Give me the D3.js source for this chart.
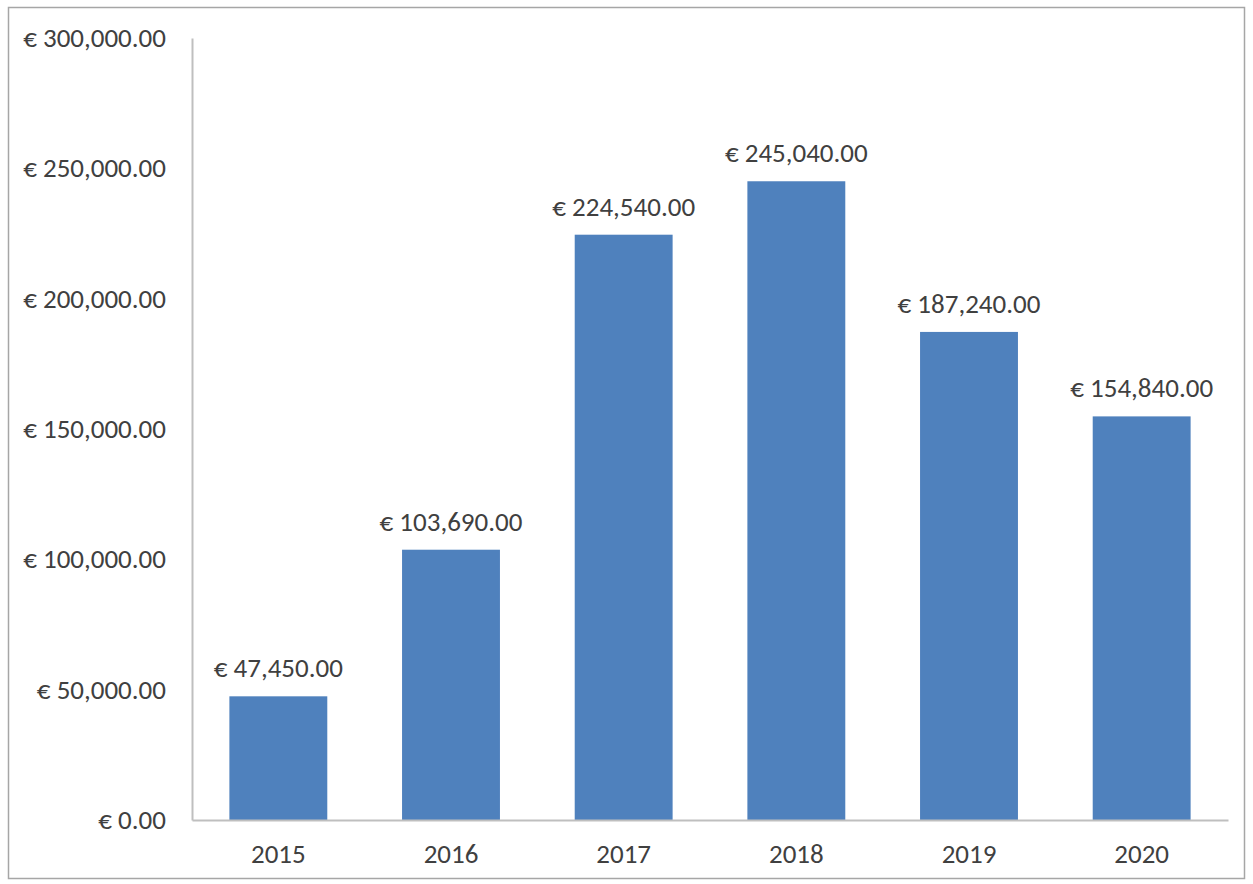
<!DOCTYPE html>
<html><head><meta charset="utf-8">
<script src="https://cdn.jsdelivr.net/npm/d3@7"></script>
<style>html,body{margin:0;padding:0;background:#fff;}svg{display:block;}</style>
</head><body>
<script>
const years = ["2015","2016","2017","2018","2019","2020"];
const values = [47450, 103690, 224540, 245040, 187240, 154840];
const yTicks = [0, 50000, 100000, 150000, 200000, 250000, 300000];

const W = 1253, H = 884;
const mLeft = 192, mRight = 1228, mTop = 38, mBottom = 820;
const font = "Carlito, Calibri, Lato, sans-serif";
const fs = 27;
const svg = d3.select("body").append("svg").attr("width", W).attr("height", H);

svg.append("rect").attr("x", 8.5).attr("y", 7.5).attr("width", 1236).attr("height", 871)
  .attr("fill", "#fff").attr("stroke", "#a6a6a6").attr("stroke-width", 1.5);

const x = d3.scaleBand().domain(years).range([mLeft, mRight]).paddingInner(0.433).paddingOuter(0.2165);
const y = d3.scaleLinear().domain([0, 300000]).range([mBottom, mTop]);
const fmt = v => "€ " + d3.format(",.2f")(v);

const yAxis = svg.append("g").attr("transform", `translate(${mLeft},0)`)
  .call(d3.axisLeft(y).tickValues(yTicks).tickSize(0).tickPadding(26).tickFormat(fmt));
yAxis.select(".domain").attr("stroke", "#bfbfbf").attr("stroke-width", 2);
yAxis.selectAll("text").attr("font-family", font).attr("font-size", fs).attr("fill", "#404040");

svg.selectAll("rect.bar").data(values).enter().append("rect").attr("class", "bar")
  .attr("x", (d, i) => x(years[i])).attr("width", x.bandwidth())
  .attr("y", d => y(d)).attr("height", d => y(0) - y(d)).attr("fill", "#4f81bd");

const xAxis = svg.append("g").attr("transform", `translate(0,${mBottom})`)
  .call(d3.axisBottom(x).tickSize(0).tickPadding(24).tickSizeOuter(0));
xAxis.select(".domain").attr("stroke", "#bfbfbf").attr("stroke-width", 2);
xAxis.selectAll("text").attr("font-family", font).attr("font-size", fs).attr("fill", "#404040");

svg.selectAll("text.val").data(values).enter().append("text").attr("class", "val")
  .attr("x", (d, i) => x(years[i]) + x.bandwidth() / 2).attr("y", d => y(d) - 19)
  .attr("text-anchor", "middle").attr("font-family", font).attr("font-size", fs).attr("fill", "#404040")
  .text(fmt);
</script>
</body></html>
